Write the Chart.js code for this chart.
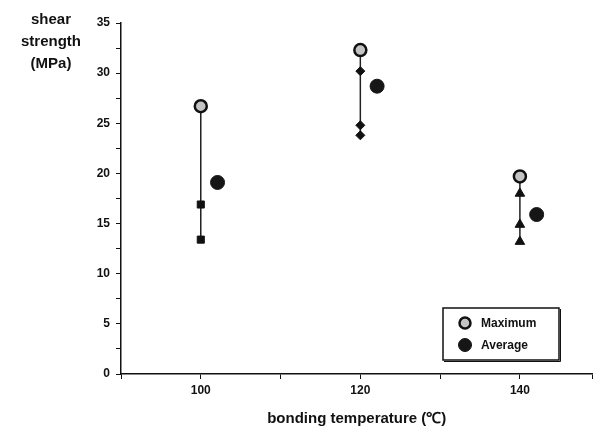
<!DOCTYPE html>
<html>
<head>
<meta charset="utf-8">
<script src="https://cdn.jsdelivr.net/npm/chart.js@4.4.0/dist/chart.umd.min.js"></script>
<style>
  html, body { margin: 0; padding: 0; background: #fff; overflow: hidden; }
</style>
</head>
<body>
<canvas id="shearChart" width="601" height="432"></canvas>
<script>
// bonding temperatures (C)
const temps = [100, 120, 140];
// shear strength, MPa
const maxVals = [26.7, 32.3, 19.7];
const avgVals = [19.1, 28.7, 15.9];
const samples100 = [16.9, 13.4];
const samples120 = [30.2, 24.8, 23.8];
const samples140 = [18.0, 14.9, 13.2];
const yTicks = [0, 5, 10, 15, 20, 25, 30, 35];
const xTicks = [100, 120, 140];

const ink = '#111';
const avgShift = 2.1; // average marker drawn just right of its group

function col(t, vals) {
  return vals.map(v => ({ x: t, y: v }));
}
function stem(t, top, vals) {
  return [{ x: t, y: top }].concat(col(t, vals));
}

const boldFont = (s) => ({ family: 'Liberation Sans, Arial, sans-serif', size: s, weight: 'bold' });

// y title in the top left corner and legend box in the lower right
const extras = {
  id: 'extras',
  afterDraw(chart) {
    const c = chart.ctx;
    const area = chart.chartArea;
    c.save();
    c.fillStyle = ink;
    c.font = 'bold 15px Liberation Sans, Arial, sans-serif';
    c.textAlign = 'center';
    c.textBaseline = 'middle';
    ['shear', 'strength', '(MPa)'].forEach((s, i) => c.fillText(s, 51, 20 + i * 22));

    // legend
    const bx = 443, by = area.bottom - 66, bw = 116, bh = 52;
    c.lineWidth = 1.5;
    c.strokeStyle = ink;
    c.strokeRect(bx, by, bw, bh);
    c.lineWidth = 1;
    c.beginPath();
    c.moveTo(bx + 1, by + bh + 1.5); c.lineTo(bx + bw + 1.5, by + bh + 1.5); c.lineTo(bx + bw + 1.5, by + 1);
    c.stroke();
    const items = chart.data.datasets.filter(d => d.inLegend);
    items.forEach((d, i) => {
      const cy = by + 15 + i * 22;
      c.beginPath();
      c.arc(bx + 22, cy, d.pointRadius - 0.5, 0, Math.PI * 2);
      c.fillStyle = d.backgroundColor;
      c.fill();
      c.lineWidth = d.borderWidth;
      c.strokeStyle = d.borderColor;
      c.stroke();
      c.fillStyle = ink;
      c.font = 'bold 12px Liberation Sans, Arial, sans-serif';
      c.textAlign = 'left';
      c.fillText(d.label, bx + 38, cy + 1);
    });
    c.restore();
  }
};

const lineStyle = { showLine: true, pointRadius: 0, borderColor: '#222', borderWidth: 1.5, inLegend: false };
const markStyle = { backgroundColor: ink, borderColor: ink, borderWidth: 1, pointRadius: 5, inLegend: false };

new Chart(document.getElementById('shearChart'), {
  type: 'scatter',
  data: {
    datasets: [
      {
        label: 'Maximum', inLegend: true,
        data: temps.map((t, i) => ({ x: t, y: maxVals[i] })),
        pointStyle: 'circle', pointRadius: 6,
        backgroundColor: '#c4c4c4', borderColor: ink, borderWidth: 2.5
      },
      {
        label: 'Average', inLegend: true,
        data: temps.map((t, i) => ({ x: t + avgShift, y: avgVals[i] })),
        pointStyle: 'circle', pointRadius: 7,
        backgroundColor: '#161616', borderColor: '#161616', borderWidth: 1
      },
      Object.assign({ label: '100', data: col(temps[0], samples100), pointStyle: 'rect' }, markStyle, { pointRadius: 5 }),
      Object.assign({ label: '120', data: col(temps[1], samples120), pointStyle: 'rectRot' }, markStyle, { pointRadius: 4.5 }),
      Object.assign({ label: '140', data: col(temps[2], samples140), pointStyle: 'triangle' }, markStyle, { pointRadius: 5.5 }),
      Object.assign({ label: 'l100', data: stem(temps[0], maxVals[0], samples100) }, lineStyle),
      Object.assign({ label: 'l120', data: stem(temps[1], maxVals[1], samples120) }, lineStyle),
      Object.assign({ label: 'l140', data: stem(temps[2], maxVals[2], samples140),
        segment: { borderDash: ctx => ctx.p1DataIndex === 3 ? [2, 2] : undefined } }, lineStyle)
    ]
  },
  options: {
    responsive: false,
    animation: false,
    layout: { padding: { left: 0, right: 3, top: 23, bottom: 0 } },
    plugins: {
      legend: { display: false },
      tooltip: { enabled: false }
    },
    scales: {
      x: {
        type: 'linear', min: 90, max: 149.1,
        afterFit: s => { s.height = 58; },
        ticks: {
          stepSize: 10, color: ink, font: boldFont(12), padding: 4,
          callback: v => xTicks.includes(v) ? String(v) : ''
        },
        grid: { display: true, drawOnChartArea: false, tickLength: 5, color: ink },
        border: { display: true, color: ink, width: 1.5 },
        title: { display: true, text: 'bonding temperature (℃)', color: ink, font: boldFont(15), padding: { top: 8 } }
      },
      y: {
        min: 0, max: 35,
        afterFit: s => { s.width = 121; },
        ticks: {
          stepSize: 2.5, color: ink, font: boldFont(12), padding: 6,
          callback: v => yTicks.includes(v) ? String(v) : ''
        },
        grid: { display: true, drawOnChartArea: false, tickLength: 5, color: ink },
        border: { display: true, color: ink, width: 1.5 }
      }
    }
  },
  plugins: [extras]
});
</script>
</body>
</html>
